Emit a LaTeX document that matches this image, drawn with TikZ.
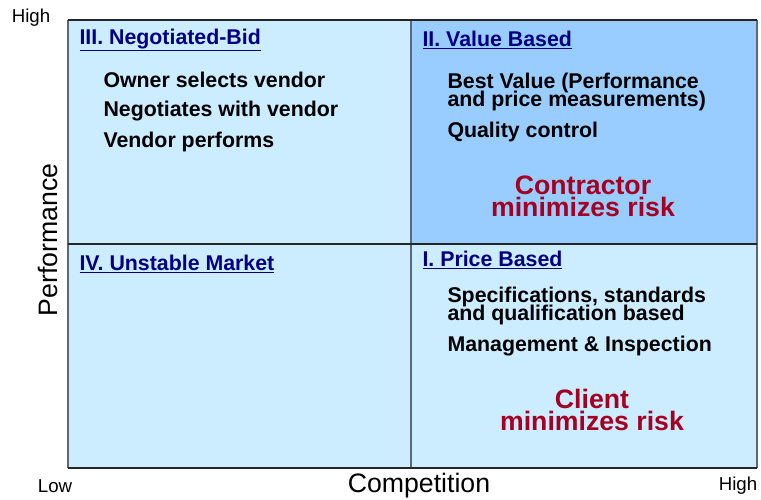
\documentclass[tikz,border=0pt]{standalone}
\usepackage{fontspec}
\setmainfont{Liberation Sans}

\definecolor{paleblue}{RGB}{204,236,255}
\definecolor{midblue}{RGB}{153,204,255}
\definecolor{navytitle}{RGB}{0,0,128}
\definecolor{riskred}{RGB}{165,0,33}
\definecolor{vline}{RGB}{90,104,120}

\tikzset{every picture/.style={line width=0.75pt}}
\tikzset{
  quadtitle/.style={anchor=west,inner sep=0.75pt,text=navytitle,font={\fontsize{16}{18}\selectfont\bfseries}},
  quaditem/.style={anchor=west,inner sep=0.75pt,align=left,font={\fontsize{16}{13.5}\selectfont\bfseries\lineskiplimit=-20pt}},
  risknote/.style={inner sep=0.75pt,align=center,text=riskred,font={\fontsize{20}{16.5}\selectfont\bfseries\lineskiplimit=-20pt}},
  axisend/.style={inner sep=0.75pt,font={\fontsize{14}{16}\selectfont}},
  axisname/.style={inner sep=0.75pt,font={\fontsize{20}{22}\selectfont}}
}

\begin{document}
\begin{tikzpicture}[x=0.75pt,y=0.75pt,yscale=-1,xscale=1]
\useasboundingbox (0,0) rectangle (761,500);

%Shape: quadrants
\fill [paleblue] (68,20) rectangle (411,244);
\fill [midblue] (411,20) rectangle (757,244);
\fill [paleblue] (68,244) rectangle (411,468);
\fill [paleblue] (411,244) rectangle (757,468);

%Shape: grid lines
\draw [vline,line width=1.2] (68,20) -- (68,468);
\draw [vline,line width=1.2] (411,20) -- (411,468);
\draw [vline,line width=1.2] (757,20) -- (757,468);
\draw [black!85,line width=1] (68,20) -- (757,20);
\draw [black!85,line width=1] (68,244) -- (757,244);
\draw [black!85,line width=1] (68,468) -- (757,468);

% Text Node: quadrant III
\node [quadtitle] (negbid) at (78,40) {\underline{III. Negotiated-Bid}};
\node [quaditem] (ownersel) at (102,80) {Owner selects vendor};
\node [quaditem] (negvendor) at (102,111) {Negotiates with vendor};
\node [quaditem] (vendperf) at (102,142) {Vendor performs};

% Text Node: quadrant II
\node [quadtitle] (valbased) at (421,40) {\underline{II. Value Based}};
\node [quaditem] (bestval) at (446,92) {Best Value (Performance\\and price measurements)};
\node [quaditem] (qualctl) at (446,132) {Quality control};
\node [risknote] (contrisk) at (583,196) {Contractor\\minimizes risk};

% Text Node: quadrant IV
\node [quadtitle] (unstable) at (78,264) {\underline{IV. Unstable Market}};

% Text Node: quadrant I
\node [quadtitle] (pricebased) at (421,260) {\underline{I. Price Based}};
\node [quaditem] (specs) at (446,305.5) {Specifications, standards\\and qualification based};
\node [quaditem] (mgmt) at (446,346) {Management \& Inspection};
\node [risknote] (clientrisk) at (592,410) {Client\\minimizes risk};

% Text Node: axes
\node [axisend] (perfhigh) at (31,18) {High};
\node [axisname,rotate=90] (perf) at (48,240) {Performance};
\node [axisend] (complow) at (55,486) {Low};
\node [axisname] (comp) at (419,486) {Competition};
\node [axisend] (comphigh) at (738,486) {High};

\end{tikzpicture}
\end{document}
